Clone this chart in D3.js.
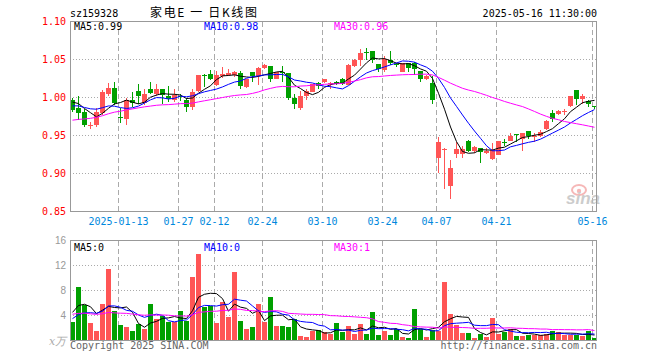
<!DOCTYPE html>
<html>
<head>
<meta charset="utf-8">
<script src="https://cdn.jsdelivr.net/npm/d3@7/dist/d3.min.js"></script>
<style>
body{margin:0;background:#fff;}
text{font-family:"DejaVu Sans Mono",monospace;font-size:10px;}
</style>
</head>
<body>
<div id="chart"></div>
<script>
// trading days shown, 2024-12-31 .. 2025-05-16
var days = ["2024-12-31","2025-01-02","01-03","01-06","01-07","01-08","01-09","01-10","01-13","01-14",
    "01-15","01-16","01-17","01-20","01-21","01-22","01-23","01-24","01-27","02-05",
    "02-06","02-07","02-10","02-11","02-12","02-13","02-14","02-17","02-18","02-19",
    "02-20","02-21","02-24","02-25","02-26","02-27","02-28","03-03","03-04","03-05",
    "03-06","03-07","03-10","03-11","03-12","03-13","03-14","03-17","03-18","03-19",
    "03-20","03-21","03-24","03-25","03-26","03-27","03-28","03-31","04-01","04-02",
    "04-03","04-07","04-08","04-09","04-10","04-11","04-14","04-15","04-16","04-17",
    "04-18","04-21","04-22","04-23","04-24","04-25","04-28","04-29","04-30","05-06",
    "05-07","05-08","05-09","05-12","05-13","05-14","05-15","05-16"];

var open = [0.997,0.986,0.981,0.963,0.964,0.979,1.005,1.013,0.974,0.972,
    0.997,1.008,0.993,1.011,1.005,1.011,1.002,0.997,1.002,0.997,
    0.988,1.009,1.030,1.031,1.017,1.028,1.030,1.030,1.032,1.014,
    1.033,1.028,1.039,1.041,1.024,1.034,1.032,1.000,0.986,1.002,
    1.007,1.019,1.020,1.018,1.020,1.024,1.017,1.041,1.050,1.060,
    1.061,1.044,1.036,1.050,1.044,1.034,1.045,1.045,1.035,1.024,
    1.019,0.920,0.931,0.884,0.926,0.926,0.943,0.930,0.934,0.927,
    0.919,0.924,0.942,0.943,0.952,0.945,0.956,0.949,0.950,0.958,
    0.979,0.978,0.981,0.989,1.010,0.998,0.996,0.989];
var high = [0.999,1.002,0.985,0.968,0.986,1.010,1.019,1.021,0.986,1.000,
    1.007,1.018,1.011,1.021,1.018,1.011,1.015,1.011,1.005,0.999,
    1.011,1.030,1.031,1.036,1.035,1.040,1.037,1.035,1.035,1.025,
    1.033,1.040,1.044,1.041,1.034,1.041,1.032,1.005,1.008,1.011,
    1.018,1.021,1.024,1.021,1.022,1.026,1.044,1.051,1.064,1.065,
    1.061,1.044,1.054,1.061,1.046,1.046,1.045,1.047,1.035,1.029,
    1.028,0.948,0.933,0.918,0.942,0.936,0.944,0.936,0.934,0.934,
    0.940,0.943,0.945,0.953,0.952,0.953,0.956,0.953,0.957,0.970,
    0.984,0.983,0.985,1.002,1.010,1.004,0.997,0.989];
var low = [0.981,0.971,0.961,0.958,0.961,0.977,1.002,0.990,0.966,0.964,
    0.988,0.992,0.990,1.004,1.002,0.991,0.994,0.994,0.996,0.981,
    0.983,1.007,1.014,1.023,1.015,1.026,1.028,1.027,1.011,1.013,
    1.020,1.017,1.037,1.020,1.024,1.020,0.997,0.985,0.984,0.997,
    1.007,1.011,1.019,1.011,1.016,1.016,1.016,1.040,1.041,1.049,
    1.046,1.033,1.033,1.043,1.040,1.033,1.034,1.029,1.020,1.023,
    0.992,0.901,0.880,0.867,0.921,0.921,0.928,0.927,0.914,0.926,
    0.918,0.924,0.936,0.943,0.941,0.929,0.945,0.942,0.948,0.957,
    0.968,0.977,0.977,0.988,0.990,0.992,0.988,0.985];
var close = [0.984,0.980,0.964,0.964,0.981,1.007,1.013,0.993,0.973,0.997,
    0.993,1.002,1.004,1.006,1.011,1.003,0.998,1.003,1.001,0.988,
    1.007,1.029,1.029,1.024,1.029,1.031,1.032,1.033,1.015,1.024,
    1.028,1.039,1.043,1.024,1.034,1.032,1.000,0.991,1.002,1.008,
    1.018,1.015,1.024,1.019,1.018,1.018,1.043,1.049,1.059,1.059,
    1.050,1.037,1.051,1.045,1.043,1.045,1.039,1.037,1.024,1.028,
    0.997,0.942,0.932,0.907,0.932,0.932,0.930,0.935,0.928,0.930,
    0.931,0.943,0.941,0.949,0.951,0.953,0.949,0.950,0.955,0.969,
    0.972,0.982,0.982,1.002,0.998,1.002,0.991,0.988];
// volume, 万
var volume = [3.0,8.5,5.7,2.8,1.5,5.8,11.5,4.8,2.5,2.2,
    1.5,2.6,1.8,5.9,3.5,3.9,3.0,2.9,4.7,3.1,
    10.1,13.8,5.3,5.5,2.8,6.1,3.7,11.0,3.1,1.8,
    2.2,5.9,2.9,6.9,2.3,2.3,2.2,3.4,0.7,0.6,
    1.6,1.7,1.3,1.0,2.8,1.3,2.3,1.1,2.6,1.1,
    4.5,0.9,1.5,0.9,1.8,0.6,0.4,5.0,1.8,0.6,
    1.7,1.5,9.4,4.2,2.5,1.2,1.2,0.4,1.1,0.6,
    3.6,1.1,1.4,1.9,0.7,0.7,0.9,0.9,0.9,1.1,
    1.6,1.4,0.9,0.9,0.9,0.7,1.5,0.4];
// days before the first one, estimated from where the MA lines start
var earlierClose = [0.950,0.945,0.940,0.940,0.945,0.935,0.930,0.935,0.945,0.955,
    0.960,0.965,0.975,0.980,0.985,0.990,0.985,0.980,0.985,0.990,
    0.980,0.985,0.982,0.986,0.987,0.990,0.9965,0.9915,1.008];
var earlierVolume = [4,5,6,4,3,5,7,4,3,5,6,4,4,5,3,4,6,5,4,4,
    2.0,3.0,2.5,2.5,2.5,3.0,4.7,4.8,7.0];

var tickDays = ["01-13","01-27","02-12","02-24","03-10","03-24","04-07","04-21","05-16"];
var priceTicks = [1.10,1.05,1.00,0.95,0.90,0.85];
var volumeTicks = [16,12,8,4];
var priceMaText = ["MA5:0.99","MA10:0.98","MA30:0.96"];
var volumeMaText = ["MA5:0","MA10:0","MA30:1"];
var maWindows = [5,10,30];
var maColors = ["#000","#0000ff","#ff00ff"];

var UP = "#ff5555", DOWN = "#00a000", GRID = "#aaa";

var n = close.length;
var svg = d3.select("#chart").append("svg").attr("width", 660).attr("height", 360);

var x = d3.scaleLinear().domain([0, n]).range([70, 598]);
var py = d3.scaleLinear().domain([0.85, 1.10]).range([211.5, 21.5]);
var vy = d3.scaleLinear().domain([0, 16]).range([340.5, 240.5]);

function movingAvg(prior, vals, w){
    var all = prior.concat(vals);
    return vals.map(function(v, i){
        var end = prior.length + i + 1;
        return d3.mean(all.slice(end - w, end));
    });
}
function isUp(i){ return close[i] >= open[i]; }

//header
svg.append("text").attr("x", 70).attr("y", 17).text("sz159328");
svg.append("text").attr("x", 150).attr("y", 17).attr("textLength", 107).attr("lengthAdjust", "spacing")
    .attr("xml:space", "preserve").style("white-space", "pre")
    .style("font-family", "'Noto Sans CJK SC'").style("font-size", "12px").text("家电E 一 日K线图");
svg.append("text").attr("x", 597).attr("y", 17).attr("text-anchor", "end").text("2025-05-16 11:30:00");

svg.append("defs").append("clipPath").attr("id", "pclip").append("rect")
    .attr("x", 70).attr("y", 21).attr("width", 527).attr("height", 191);
svg.append("defs").append("clipPath").attr("id", "vclip").append("rect")
    .attr("x", 70).attr("y", 240).attr("width", 527).attr("height", 101);

var grid = svg.append("g").attr("shape-rendering", "crispEdges");
// vertical dashed lines at the labelled days
tickDays.forEach(function(d){
    var i = days.indexOf(d), gx = x(i) + 0.5;
    [[21.5, 211.5], [240.5, 340.5]].forEach(function(r){
        grid.append("line").attr("x1", gx).attr("x2", gx).attr("y1", r[0]).attr("y2", r[1])
            .attr("stroke", GRID).attr("stroke-dasharray", "5,3");
    });
    svg.append("text").attr("x", gx).attr("y", 225).attr("text-anchor", "middle")
        .attr("fill", "#0088dd").text(i == 8 ? "2025-" + d : d);
});
priceTicks.forEach(function(t){
    if (t < 1.09 && t > 0.86)
        grid.append("line").attr("x1", 70).attr("x2", 597).attr("y1", py(t)).attr("y2", py(t))
            .attr("stroke", GRID).attr("stroke-dasharray", "1,2");
    svg.append("text").attr("x", 66).attr("y", py(t) + 3.5).attr("text-anchor", "end")
        .attr("fill", "#f00").text(t.toFixed(2));
});
volumeTicks.forEach(function(t){
    if (t < 16)
        grid.append("line").attr("x1", 70).attr("x2", 597).attr("y1", vy(t)).attr("y2", vy(t))
            .attr("stroke", GRID).attr("stroke-dasharray", "1,2");
    svg.append("text").attr("x", 66).attr("y", vy(t) + 3.5).attr("text-anchor", "end")
        .attr("fill", "#999").style("font-family", "'Liberation Sans'").text(t);
});
svg.append("text").attr("x", 49).attr("y", 345).attr("fill", "#aaa")
    .style("font-family", "'DejaVu Serif'").style("font-style", "italic").style("font-size", "11px").text("x万");

// sina watermark
var logo = svg.append("g").attr("opacity", 0.75);
logo.append("ellipse").attr("cx", 579).attr("cy", 190).attr("rx", 7).attr("ry", 5)
    .attr("fill", "none").attr("stroke", "#f3a0a0").attr("stroke-width", 2);
logo.append("circle").attr("cx", 579).attr("cy", 191).attr("r", 2.2).attr("fill", "#f3a0a0");
logo.append("text").attr("x", 566).attr("y", 204).attr("fill", "#bbb")
    .style("font-family", "'Liberation Sans'").style("font-size", "17px")
    .style("font-weight", "bold").style("font-style", "italic").text("sina");

// candles
var candles = svg.append("g").attr("shape-rendering", "crispEdges").attr("clip-path", "url(#pclip)");
d3.range(n).forEach(function(i){
    var c = isUp(i) ? UP : DOWN;
    candles.append("line").attr("x1", x(i) + 2.5).attr("x2", x(i) + 2.5)
        .attr("y1", py(high[i])).attr("y2", py(low[i])).attr("stroke", c);
    var top = py(Math.max(open[i], close[i])), bot = py(Math.min(open[i], close[i]));
    candles.append("rect").attr("x", x(i)).attr("width", 5)
        .attr("y", top).attr("height", Math.max(1, bot - top)).attr("fill", c);
});

// volume bars
svg.append("g").attr("shape-rendering", "crispEdges").selectAll("rect").data(volume).enter().append("rect")
    .attr("x", function(d, i){ return x(i); }).attr("width", 5)
    .attr("y", function(d){ return vy(d); }).attr("height", function(d){ return vy(0) - vy(d); })
    .attr("fill", function(d, i){ return isUp(i) ? UP : DOWN; });

// moving averages
var line = d3.line().x(function(d, i){ return x(i) + 2.5; });
maWindows.forEach(function(w, k){
    svg.append("path").attr("clip-path", "url(#pclip)")
        .attr("d", line.y(function(d){ return py(d); })(movingAvg(earlierClose, close, w)))
        .attr("fill", "none").attr("stroke", maColors[k]);
    svg.append("path").attr("clip-path", "url(#vclip)")
        .attr("d", line.y(function(d){ return vy(d); })(movingAvg(earlierVolume, volume, w)))
        .attr("fill", "none").attr("stroke", maColors[k]);
    svg.append("text").attr("x", 74 + 130 * k).attr("y", 30).attr("fill", maColors[k]).text(priceMaText[k]);
    svg.append("text").attr("x", 74 + 130 * k).attr("y", 250.5).attr("fill", maColors[k]).text(volumeMaText[k]);
});

// frames
svg.append("rect").attr("x", 70.5).attr("y", 21.5).attr("width", 526).attr("height", 190)
    .attr("fill", "none").attr("stroke", "#999").attr("shape-rendering", "crispEdges");
svg.append("rect").attr("x", 70.5).attr("y", 240.5).attr("width", 526).attr("height", 100)
    .attr("fill", "none").attr("stroke", "#999").attr("shape-rendering", "crispEdges");

svg.append("text").attr("x", 70).attr("y", 349).attr("fill", "#666").text("Copyright 2025 SINA.COM");
svg.append("text").attr("x", 597).attr("y", 349).attr("text-anchor", "end").attr("fill", "#666").text("http://finance.sina.com.cn");
</script>
</body>
</html>
